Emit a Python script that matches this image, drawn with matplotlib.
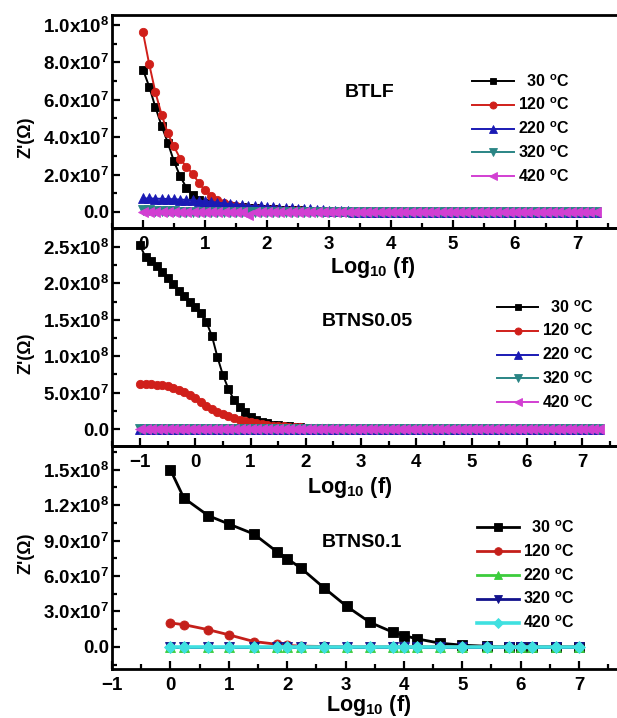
import matplotlib
matplotlib.use('Agg')
import matplotlib.pyplot as plt
import numpy as np
from matplotlib.ticker import MultipleLocator, FuncFormatter

plt.rcParams['font.family'] = ['Liberation Sans', 'DejaVu Sans']
plt.rcParams['font.weight'] = 'bold'
plt.rcParams['mathtext.fontset'] = 'custom'
plt.rcParams['mathtext.rm'] = 'Liberation Sans:bold'
plt.rcParams['mathtext.it'] = 'Liberation Sans:bold'
plt.rcParams['mathtext.bf'] = 'Liberation Sans:bold'
plt.rcParams['mathtext.default'] = 'rm'

SCALE = 1e7  # values below are in units of 1e7 Ohm

LABELS = ['  30 $^{o}$C', '120 $^{o}$C', '220 $^{o}$C', '320 $^{o}$C', '420 $^{o}$C']
SAMPLES = ['BTLF', 'BTNS0.05', 'BTNS0.1']

# ---------------- Panel 1 : BTLF ----------------
X1 = [0.0, 0.1, 0.2, 0.3, 0.4, 0.5, 0.6, 0.7, 0.8, 0.9,
      1.0, 1.1, 1.2, 1.3, 1.4, 1.5, 1.6, 1.7, 1.8, 1.9,
      2.0, 2.1, 2.2, 2.3, 2.4, 2.5, 2.6, 2.7, 2.8, 2.9,
      3.0, 3.1, 3.2, 3.3, 3.4, 3.5, 3.6, 3.7, 3.8, 3.9,
      4.0, 4.1, 4.2, 4.3, 4.4, 4.5, 4.6, 4.7, 4.8, 4.9,
      5.0, 5.1, 5.2, 5.3, 5.4, 5.5, 5.6, 5.7, 5.8, 5.9,
      6.0, 6.1, 6.2, 6.3, 6.4, 6.5, 6.6, 6.7, 6.8, 6.9,
      7.0, 7.1, 7.2, 7.3]
BTLF_30 = [7.6, 6.7, 5.6, 4.6, 3.7, 2.7, 1.9, 1.3, 0.9, 0.65,
           0.5, 0.42, 0.36, 0.32, 0.29, 0.26, 0.24, 0.22, 0.2, 0.18,
           0.16, 0.14, 0.12, 0.1, 0.09, 0.08, 0.07, 0.06, 0.05, 0.04,
           0.03, 0.02, 0.01, 0, 0, 0, 0, 0, 0, 0,
           0, 0, 0, 0, 0, 0, 0, 0, 0, 0,
           0, 0, 0, 0, 0, 0, 0, 0, 0, 0,
           0, 0, 0, 0, 0, 0, 0, 0, 0, 0,
           0, 0, 0, 0]
BTLF_120 = [9.6, 7.9, 6.4, 5.2, 4.2, 3.5, 2.85, 2.4, 2.05, 1.55,
            1.15, 0.85, 0.62, 0.47, 0.37, 0.3, 0.26, 0.23, 0.2, 0.18,
            0.16, 0.14, 0.12, 0.1, 0.09, 0.08, 0.07, 0.06, 0.05, 0.04,
            0.03, 0.02, 0.01, 0, 0, 0, 0, 0, 0, 0,
            0, 0, 0, 0, 0, 0, 0, 0, 0, 0,
            0, 0, 0, 0, 0, 0, 0, 0, 0, 0,
            0, 0, 0, 0, 0, 0, 0, 0, 0, 0,
            0, 0, 0, 0]
BTLF_220 = [0.72, 0.72, 0.71, 0.70, 0.69, 0.68, 0.66, 0.64, 0.62, 0.60,
            0.57, 0.54, 0.50, 0.46, 0.42, 0.39, 0.36, 0.33, 0.31, 0.29,
            0.27, 0.25, 0.23, 0.21, 0.19, 0.17, 0.15, 0.13, 0.11, 0.09,
            0.07, 0.05, 0.04, 0.03, 0.02, 0.01, 0, 0, 0, 0,
            0, 0, 0, 0, 0, 0, 0, 0, 0, 0,
            0, 0, 0, 0, 0, 0, 0, 0, 0, 0,
            0, 0, 0, 0, 0, 0, 0, 0, 0, 0,
            0, 0, 0, 0]
BTLF_320 = [0.1, 0.08, 0.06, 0.05, 0.04, 0.03, 0.02, 0.01, 0.01, 0,
            0, 0, 0, 0, 0, 0, 0, 0, 0, 0,
            0, 0, 0, 0, 0, 0, 0, 0, 0, 0,
            0, 0, 0, 0, 0, 0, 0, 0, 0, 0,
            0, 0, 0, 0, 0, 0, 0, 0, 0, 0,
            0, 0, 0, 0, 0, 0, 0, 0, 0, 0,
            0, 0, 0, 0, 0, 0, 0, 0, 0, 0,
            0, 0, 0, 0]
BTLF_420 = [0, 0, 0, 0, 0, 0, 0, 0, 0, 0,
            0, 0, 0, 0, 0, 0, 0, -0.15, 0, 0,
            0, 0, 0, 0, 0, 0, 0, 0, 0, 0,
            0, 0, 0, 0, 0, 0, 0, 0, 0, 0,
            0, 0, 0, 0, 0, 0, 0, 0, 0, 0,
            0, 0, 0, 0, 0, 0, 0, 0, 0, 0,
            0, 0, 0, 0, 0, 0, 0, 0, 0, 0,
            0, 0, 0, 0]

# ---------------- Panel 2 : BTNS0.05 ----------------
X2 = [-1.0, -0.9, -0.8, -0.7, -0.6, -0.5, -0.4, -0.3, -0.2, -0.1,
      0.0, 0.1, 0.2, 0.3, 0.4, 0.5, 0.6, 0.7, 0.8, 0.9,
      1.0, 1.1, 1.2, 1.3, 1.4, 1.5, 1.6, 1.7, 1.8, 1.9,
      2.0, 2.1, 2.2, 2.3, 2.4, 2.5, 2.6, 2.7, 2.8, 2.9,
      3.0, 3.1, 3.2, 3.3, 3.4, 3.5, 3.6, 3.7, 3.8, 3.9,
      4.0, 4.1, 4.2, 4.3, 4.4, 4.5, 4.6, 4.7, 4.8, 4.9,
      5.0, 5.1, 5.2, 5.3, 5.4, 5.5, 5.6, 5.7, 5.8, 5.9,
      6.0, 6.1, 6.2, 6.3, 6.4, 6.5, 6.6, 6.7, 6.8, 6.9,
      7.0, 7.1, 7.2, 7.3]
BTNS005_30 = [25.2, 23.6, 23.1, 22.4, 21.6, 20.7, 19.9, 19.0, 18.2, 17.4,
              16.8, 15.9, 14.7, 12.8, 9.9, 7.4, 5.5, 4.0, 3.0, 2.3,
              1.7, 1.3, 1.0, 0.8, 0.6, 0.5, 0.4, 0.35, 0.3, 0.25,
              0.2, 0.17, 0.15, 0.13, 0.11, 0.1, 0.08, 0.07, 0.06, 0.05,
              0.04, 0.03, 0.02, 0.01, 0, 0, 0, 0, 0, 0,
              0, 0, 0, 0, 0, 0, 0, 0, 0, 0,
              0, 0, 0, 0, 0, 0, 0, 0, 0, 0,
              0, 0, 0, 0, 0, 0, 0, 0, 0, 0,
              0, 0, 0, 0]
BTNS005_120 = [6.2, 6.2, 6.15, 6.1, 6.0, 5.85, 5.65, 5.4, 5.1, 4.7,
               4.2, 3.65, 3.15, 2.7, 2.3, 2.0, 1.75, 1.5, 1.3, 1.1,
               0.92, 0.77, 0.64, 0.54, 0.46, 0.4, 0.35, 0.3, 0.26, 0.23,
               0.2, 0.17, 0.15, 0.13, 0.11, 0.1, 0.08, 0.07, 0.06, 0.05,
               0.04, 0.03, 0.02, 0.01, 0, 0, 0, 0, 0, 0,
               0, 0, 0, 0, 0, 0, 0, 0, 0, 0,
               0, 0, 0, 0, 0, 0, 0, 0, 0, 0,
               0, 0, 0, 0, 0, 0, 0, 0, 0, 0,
               0, 0, 0, 0]
BTNS005_HIGH = [0, 0, 0, 0, 0, 0, 0, 0, 0, 0,
                0, 0, 0, 0, 0, 0, 0, 0, 0, 0,
                0, 0, 0, 0, 0, 0, 0, 0, 0, 0,
                0, 0, 0, 0, 0, 0, 0, 0, 0, 0,
                0, 0, 0, 0, 0, 0, 0, 0, 0, 0,
                0, 0, 0, 0, 0, 0, 0, 0, 0, 0,
                0, 0, 0, 0, 0, 0, 0, 0, 0, 0,
                0, 0, 0, 0, 0, 0, 0, 0, 0, 0,
                0, 0, 0, 0]
BTNS005_220 = BTNS005_HIGH
BTNS005_320 = BTNS005_HIGH
BTNS005_420 = BTNS005_HIGH

# ---------------- Panel 3 : BTNS0.1 ----------------
X3 = [0.0, 0.23, 0.65, 1.0, 1.43, 1.82, 2.0, 2.24, 2.63, 3.02, 3.42,
      3.82, 4.0, 4.22, 4.62, 5.0, 5.42, 5.8, 6.0, 6.2, 6.6, 7.0]
BTNS01_30 = [15.0, 12.6, 11.1, 10.4, 9.55, 8.07, 7.47, 6.65, 5.0, 3.43, 2.07,
             1.22, 0.96, 0.68, 0.31, 0.14, 0.05, 0.02, 0.01, 0, 0, 0]
BTNS01_120 = [2.02, 1.88, 1.45, 1.02, 0.45, 0.22, 0.12, 0.06, 0.03, 0.01, 0,
              0, 0, 0, 0, 0, 0, 0, 0, 0, 0, 0]
BTNS01_HIGH = [0, 0, 0, 0, 0, 0, 0, 0, 0, 0, 0,
               0, 0, 0, 0, 0, 0, 0, 0, 0, 0, 0]
BTNS01_220 = BTNS01_HIGH
BTNS01_320 = BTNS01_HIGH
BTNS01_420 = BTNS01_HIGH

# ---------------- styling ----------------
COL_A = ['#000000', '#d01f1a', '#1a1ab4', '#2a8585', '#d23fd2']
MRK_A = ['s', 'o', '^', 'v', '<']
MS_A = [5.5, 6.0, 7.0, 7.0, 7.5]
COL_B = ['#000000', '#c41f1a', '#3ccc3c', '#12128c', '#3fe0e0']
MRK_B = ['s', 'o', '^', 'v', 'D']
MS_B = [6.5, 6.5, 6.5, 6.5, 6.0]


def sci(v, pos):
    if abs(v) < 1e-3:
        return '0.0'
    e = int(np.floor(np.log10(abs(v)) + 1e-9))
    m = v / 10 ** e
    return f'{m:.1f}x10$^{{{e}}}$'


W, H = 617, 718
fig = plt.figure(figsize=(W / 100, H / 100), dpi=100)

def px_axes(top, bottom, left=112, right=617):
    return fig.add_axes([left / W, 1 - bottom / H, (right - left) / W, (bottom - top) / H])

ax1 = px_axes(15, 228)
ax2 = px_axes(228, 446)
ax3 = px_axes(446, 669)

panels = [
    (ax1, X1, [BTLF_30, BTLF_120, BTLF_220, BTLF_320, BTLF_420], COL_A, MRK_A, MS_A,
     (-0.5, 7.645), (-0.086e8, 1.053e8), 2e7, 1e7, 1.4),
    (ax2, X2, [BTNS005_30, BTNS005_120, BTNS005_220, BTNS005_320, BTNS005_420], COL_A, MRK_A, MS_A,
     (-1.507, 7.63), (-0.233e8, 2.76e8), 5e7, 2.5e7, 1.4),
    (ax3, X3, [BTNS01_30, BTNS01_120, BTNS01_220, BTNS01_320, BTNS01_420], COL_B, MRK_B, MS_B,
     (-1.0, 7.65), (-0.1875e8, 1.70e8), 3e7, 1.5e7, 2.0),
]

for ax, xs, series, cols, mks, mss, xl, yl, ymaj, ymin, lw in panels:
    ax.set_facecolor('none')
    for i, (ys, c, m, ms, lab) in enumerate(zip(series, cols, mks, mss, LABELS)):
        lww = lw
        if ax is ax3 and i == 4:
            lww = 2.6
        ax.plot(xs, np.array(ys) * SCALE, color=c, marker=m, ms=ms, lw=lww,
                markeredgewidth=0.6, label=lab)
    ax.set_xlim(*xl)
    ax.set_ylim(*yl)
    ax.xaxis.set_major_locator(MultipleLocator(1))
    ax.xaxis.set_minor_locator(MultipleLocator(0.5))
    ax.yaxis.set_major_locator(MultipleLocator(ymaj))
    ax.yaxis.set_minor_locator(MultipleLocator(ymin))
    ax.yaxis.set_major_formatter(FuncFormatter(sci))
    ax.tick_params(which='both', direction='in', width=1.6, top=False, right=False)
    ax.tick_params(which='major', length=6)
    ax.tick_params(which='minor', length=3.5)
    ax.tick_params(axis='x', labelsize=13.5, pad=6)
    ax.tick_params(axis='y', labelsize=13.5, pad=2)
    for lab in ax.get_xticklabels() + ax.get_yticklabels():
        lab.set_fontweight('bold')
    for s in ['left', 'bottom', 'top']:
        ax.spines[s].set_linewidth(2.0)
    ax.spines['right'].set_visible(False)

# sample names
ax1.text(0.511, 0.634, SAMPLES[0], transform=ax1.transAxes, ha='center', va='center',
         fontsize=14, fontweight='bold')
ax2.text(0.505, 0.569, SAMPLES[1], transform=ax2.transAxes, ha='center', va='center',
         fontsize=14, fontweight='bold')
ax3.text(0.495, 0.568, SAMPLES[2], transform=ax3.transAxes, ha='center', va='center',
         fontsize=14, fontweight='bold')

# legends
leg_kw = dict(loc='upper left', frameon=False, fontsize=11.5, handlelength=2.6,
              handletextpad=0.25, labelspacing=0.45, borderpad=0, borderaxespad=0,
              markerscale=0.85)
ax1.legend(bbox_to_anchor=(0.713, 0.728), **leg_kw)
ax2.legend(bbox_to_anchor=(0.762, 0.674), **leg_kw)
ax3.legend(bbox_to_anchor=(0.723, 0.671), **leg_kw)

# axis labels
for yc in [137, 353, 553]:
    fig.text(26 / W, 1 - yc / H, "Z'(\u03a9)", rotation=90, ha='center', va='center',
             fontsize=13, fontweight='bold')
for xc, yc in [(373, 268), (350, 487), (369, 706)]:
    fig.text(xc / W, 1 - yc / H, 'Log$_{10}$ (f)', ha='center', va='center',
             fontsize=15.5, fontweight='bold')

fig.savefig('out.png', dpi=100)
